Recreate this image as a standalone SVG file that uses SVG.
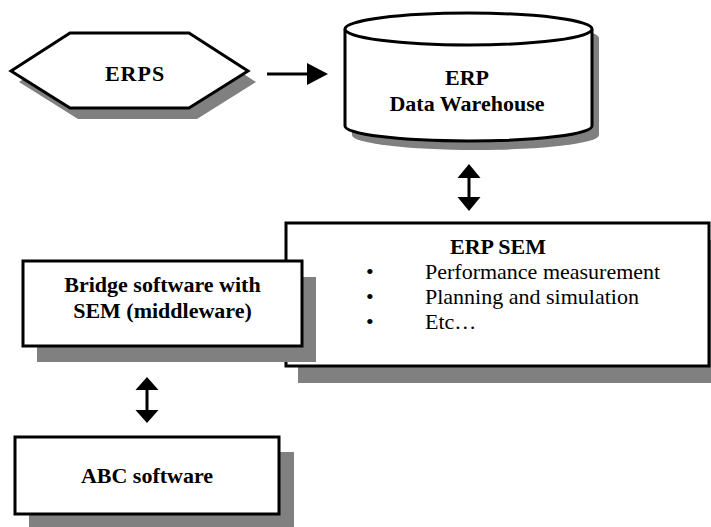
<svg xmlns="http://www.w3.org/2000/svg" width="711" height="527" viewBox="0 0 711 527">
<style>
.sh{fill:#808080;stroke:none}
.bx{fill:#fff;stroke:#000;stroke-width:3}
text{font-family:'Liberation Serif','DejaVu Serif',serif;font-size:22px;fill:#000}
.b{font-weight:bold}
.ln{stroke:#000;stroke-width:3;fill:none}
.ah{fill:#000;stroke:none}
</style>
<rect width="711" height="527" fill="#fff"/>
<g id="erps">
<polygon class="sh" points="19,82 78,44 197,44 256,82 197,119 78,119"/>
<polygon class="bx" points="11,71 70,33 189,33 248,71 189,108 70,108"/>
<text class="b" x="135" y="81" text-anchor="middle" letter-spacing="1">ERPS</text>
</g>
<g id="warehouse">
<path class="sh" d="M352,38 A123.5,16 0 0 1 599,38 L599,135 A123.5,15 0 0 1 352,135 Z"/>
<path class="bx" d="M345,29 L345,126 A123.5,15 0 0 0 592,126 L592,29"/>
<ellipse class="bx" cx="468.5" cy="29" rx="123.5" ry="16"/>
<text class="b" x="467" y="85" text-anchor="middle">ERP</text>
<text class="b" x="467" y="111" text-anchor="middle">Data Warehouse</text>
</g>
<g id="erpsem">
<rect class="sh" x="298" y="240" width="423" height="143"/>
<rect class="bx" x="286" y="223" width="423" height="143"/>
<text class="b" x="450" y="254">ERP SEM</text>
<text x="366" y="279">•</text>
<text x="425" y="279">Performance measurement</text>
<text x="366" y="304">•</text>
<text x="425" y="304">Planning and simulation</text>
<text x="366" y="329">•</text>
<text x="425" y="329">Etc…</text>
</g>
<g id="bridge">
<rect class="sh" x="37" y="277" width="279" height="85"/>
<rect class="bx" x="23" y="261" width="279" height="85"/>
<text class="b" x="162.5" y="292" text-anchor="middle">Bridge software with</text>
<text class="b" x="162.5" y="318" text-anchor="middle">SEM (middleware)</text>
</g>
<g id="abc">
<rect class="sh" x="29" y="452" width="265" height="77"/>
<rect class="bx" x="15" y="437" width="264" height="77"/>
<text class="b" x="147" y="483" text-anchor="middle">ABC software</text>
</g>
<g id="connectors">
<line class="ln" x1="267" y1="74" x2="309" y2="74"/>
<polygon class="ah" points="307,63 328,74 307,85"/>
<line class="ln" x1="469" y1="176" x2="469" y2="199"/>
<polygon class="ah" points="469,164 480.5,178 457.5,178"/>
<polygon class="ah" points="469,211 480.5,197 457.5,197"/>
<line class="ln" x1="147" y1="388" x2="147" y2="411"/>
<polygon class="ah" points="147,377 158.5,390 135.5,390"/>
<polygon class="ah" points="147,423 158.5,410 135.5,410"/>
</g>
</svg>
